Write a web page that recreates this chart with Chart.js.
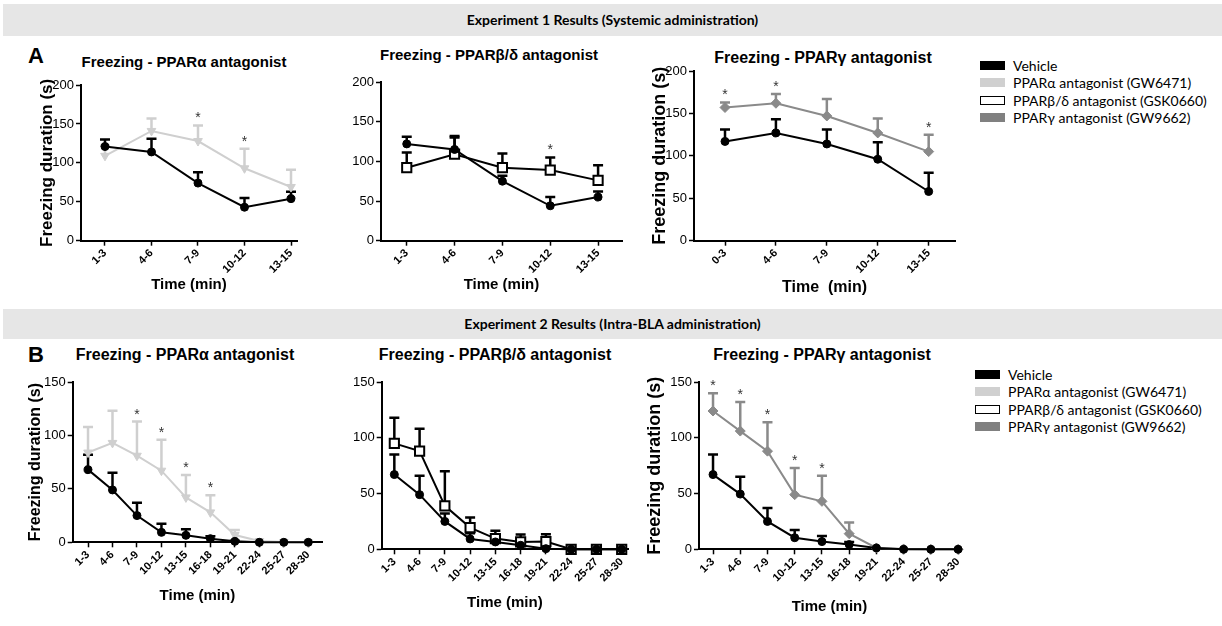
<!DOCTYPE html>
<html>
<head>
<meta charset="utf-8">
<script src="https://cdn.jsdelivr.net/npm/chart.js@4.4.0/dist/chart.umd.min.js"></script>
<style>
  body { margin: 0; width: 1222px; height: 626px; background: #fff; position: relative; overflow: hidden; font-family: "Liberation Sans", Arial, sans-serif; color: #000; }
  .bar { position: absolute; left: 3px; width: 1219px; background: #e6e6e6; text-align: center; font-family: Lato, sans-serif; font-weight: bold; font-size: 14px; }
  .title { position: absolute; width: 320px; height: 20px; line-height: 20px; text-align: center; font-weight: bold; white-space: nowrap; }
  .letter { position: absolute; font-weight: bold; font-size: 22px; line-height: 24px; }
  .legend { position: absolute; font-family: Lato, sans-serif; font-size: 14px; }
  .legend div { position: relative; height: 17.3px; line-height: 17px; padding-left: 33px; white-space: nowrap; }
  .sw { position: absolute; left: 0; top: 4px; width: 25px; height: 9px; box-sizing: border-box; }
  canvas { position: absolute; }
</style>
</head>
<body>
<div class="bar" style="top:4px;height:32px;line-height:32px">Experiment 1 Results (Systemic administration)</div>
<div class="bar" style="top:309px;height:30px;line-height:30px">Experiment 2 Results (Intra-BLA administration)</div>

<div class="letter" style="left:28px;top:44px">A</div>
<div class="letter" style="left:28px;top:343px">B</div>

<div class="title" style="left:24px;top:52px;font-size:15px">Freezing - PPARα antagonist</div>
<div class="title" style="left:329px;top:45px;font-size:15px">Freezing - PPARβ/δ antagonist</div>
<div class="title" style="left:663px;top:48px;font-size:16px">Freezing - PPARγ antagonist</div>
<div class="title" style="left:25px;top:345px;font-size:16px">Freezing - PPARα antagonist</div>
<div class="title" style="left:335px;top:345px;font-size:16px">Freezing - PPARβ/δ antagonist</div>
<div class="title" style="left:662px;top:345px;font-size:16px">Freezing - PPARγ antagonist</div>

<div class="legend" style="left:980px;top:57px">
  <div><span class="sw" style="background:#000"></span>Vehicle</div>
  <div><span class="sw" style="background:#d0d0d0"></span>PPARα antagonist (GW6471)</div>
  <div><span class="sw" style="background:#fff;border:1.5px solid #000"></span>PPARβ/δ antagonist (GSK0660)</div>
  <div><span class="sw" style="background:#808080"></span>PPARγ antagonist (GW9662)</div>
</div>
<div class="legend" style="left:975px;top:366px">
  <div><span class="sw" style="background:#000"></span>Vehicle</div>
  <div><span class="sw" style="background:#d0d0d0"></span>PPARα antagonist (GW6471)</div>
  <div><span class="sw" style="background:#fff;border:1.5px solid #000"></span>PPARβ/δ antagonist (GSK0660)</div>
  <div><span class="sw" style="background:#808080"></span>PPARγ antagonist (GW9662)</div>
</div>

<script>
const timeA = ["1-3", "4-6", "7-9", "10-12", "13-15"];
const timeA3 = ["0-3", "4-6", "7-9", "10-12", "13-15"];
const timeB = ["1-3", "4-6", "7-9", "10-12", "13-15", "16-18", "19-21", "22-24", "25-27", "28-30"];

// Experiment 1 (systemic), freezing mean and SEM in seconds
const a1Vehicle = [121, 114, 74, 43, 54];
const a1VehicleSem = [9, 17, 14, 12, 9];
const a1Alpha = [109, 141, 128, 93, 69];
const a1AlphaSem = [13, 16, 20, 25, 22];
const a1Stars = [0, 0, 1, 1, 0];

const a2Vehicle = [122, 115, 75, 44, 55];
const a2VehicleSem = [9, 17, 7, 11, 7];
const a2Beta = [92, 109, 92, 89, 76];
const a2BetaSem = [19, 21, 18, 16, 19];
const a2Stars = [0, 0, 0, 1, 0];

const a3Vehicle = [117, 127, 114, 96, 58];
const a3VehicleSem = [14, 16, 17, 20, 22];
const a3Gamma = [157, 162, 147, 127, 105];
const a3GammaSem = [6, 11, 20, 17, 20];
const a3Stars = [1, 1, 0, 0, 1];

// Experiment 2 (intra-BLA)
const b1Vehicle = [68, 49, 25, 9.3, 6.5, 3.4, 0.9, 0, 0, 0];
const b1VehicleSem = [14, 16, 12, 8, 5.6, 2.2, 0.6, 0, 0, 0];
const b1Alpha = [84, 93, 81, 67, 42, 28, 6.8, 1.2, 0.3, 0];
const b1AlphaSem = [24, 30, 32, 29, 21, 16, 4.7, 0, 0, 0];
const b1Stars = [0, 0, 1, 1, 1, 1, 0, 0, 0, 0];

const b2Vehicle = [67, 49, 25, 9.3, 6.6, 3.6, 0.6, 0, 0, 0];
const b2VehicleSem = [18, 17, 7, 5, 3.5, 2.5, 0.5, 0, 0, 0];
const b2Beta = [95, 88, 39, 19.5, 9.6, 6.6, 6.9, 0, 0, 0];
const b2BetaSem = [23, 20, 31, 9, 7, 6.6, 6.6, 0, 0, 0];
const b2Stars = [0, 0, 0, 0, 0, 0, 0, 0, 0, 0];

const b3Vehicle = [67, 49.5, 25, 10.4, 6.9, 4.2, 1.2, 0, 0, 0];
const b3VehicleSem = [18, 15.5, 12, 7, 5, 2.4, 0, 0, 0, 0];
const b3Gamma = [124, 106, 88, 49, 43, 14, 1.2, 0.3, 0, 0];
const b3GammaSem = [16, 26, 26, 24, 23, 10, 0, 0, 0, 0];
const b3Stars = [1, 1, 1, 1, 1, 0, 0, 0, 0, 0];

const black = "#000";
const light = "#cfcfcf";
const grey = "#8a8a8a";

function vehicle(values, sem) {
  return { values, sem, stars: null, color: black, fill: black, marker: "circle", radius: 4 };
}
function alpha(values, sem, stars) {
  return { values, sem, stars, color: light, fill: light, marker: "triangle", radius: 5, rotation: 180 };
}
function beta(values, sem, stars) {
  return { values, sem, stars, color: black, fill: "#fff", marker: "rect", radius: 6.5 };
}
function gamma(values, sem, stars) {
  return { values, sem, stars, color: grey, fill: grey, marker: "rectRot", radius: 5 };
}

// upward-only SEM bars under the points, stars above the caps
const errorBars = {
  id: "errorBars",
  beforeDatasetsDraw(chart) {
    const ctx = chart.ctx;
    const y = chart.scales.y;
    chart.data.datasets.forEach((ds, i) => {
      const meta = chart.getDatasetMeta(i);
      ctx.save();
      ctx.strokeStyle = ds.borderColor;
      ctx.lineWidth = 2.5;
      meta.data.forEach((pt, j) => {
        const e = ds.sem[j];
        if (!e) return;
        const top = y.getPixelForValue(ds.data[j].y + e);
        ctx.beginPath();
        ctx.moveTo(pt.x, pt.y);
        ctx.lineTo(pt.x, top);
        ctx.moveTo(pt.x - 5, top);
        ctx.lineTo(pt.x + 5, top);
        ctx.stroke();
      });
      ctx.restore();
    });
  },
  afterDatasetsDraw(chart) {
    const ctx = chart.ctx;
    const y = chart.scales.y;
    chart.data.datasets.forEach((ds, i) => {
      if (!ds.stars) return;
      const meta = chart.getDatasetMeta(i);
      ctx.save();
      ctx.fillStyle = "#333";
      ctx.font = "14px 'Liberation Sans'";
      ctx.textAlign = "center";
      ctx.textBaseline = "alphabetic";
      meta.data.forEach((pt, j) => {
        if (!ds.stars[j]) return;
        ctx.fillText("*", pt.x, y.getPixelForValue(ds.data[j].y + ds.sem[j]) - 3);
      });
      ctx.restore();
    });
  },
};

function makePanel(p) {
  const x0 = Math.round(p.yTitle ? p.yTitleX - 0.6 * p.yTitleSize : p.area.l - 35);
  const y0 = Math.round(p.area.t - 12);
  const x1 = Math.round(p.area.r + 12);
  const y1 = Math.round(p.xTitleY + 0.6 * p.xTitleSize);
  const canvas = document.createElement("canvas");
  canvas.width = x1 - x0;
  canvas.height = y1 - y0;
  canvas.style.left = x0 + "px";
  canvas.style.top = y0 + "px";
  document.body.appendChild(canvas);

  new Chart(canvas, {
    type: "line",
    data: {
      datasets: p.series.map((s) => ({
        data: s.values.map((v, i) => ({ x: i, y: v })),
        sem: s.sem,
        stars: s.stars,
        borderColor: s.color,
        backgroundColor: s.fill,
        pointBorderColor: s.color,
        pointBackgroundColor: s.fill,
        pointStyle: s.marker,
        pointRadius: s.radius,
        pointRotation: s.rotation || 0,
        pointBorderWidth: s.fill === "#fff" ? 2 : 1,
        borderWidth: 2,
        tension: 0,
        clip: false,
      })),
    },
    options: {
      responsive: false,
      animation: false,
      events: [],
      layout: { padding: { top: 12, right: 12, left: 0, bottom: 0 } },
      plugins: { legend: { display: false }, tooltip: { enabled: false } },
      scales: {
        x: {
          type: "linear",
          min: p.xMin,
          max: p.xMax,
          afterBuildTicks: (s) => { s.ticks = p.labels.map((_, i) => ({ value: i })); },
          afterFit: (s) => { s.height = y1 - p.area.b; },
          ticks: {
            autoSkip: false,
            minRotation: 45,
            maxRotation: 45,
            padding: 1,
            color: black,
            font: { family: "Liberation Sans", size: 11, weight: "bold" },
            callback: (v) => p.labels[v],
          },
          grid: { drawOnChartArea: false, tickLength: 5, tickColor: black, tickWidth: 1.5 },
          border: { color: black, width: 2 },
          title: {
            display: true,
            text: p.xTitle,
            padding: 0,
            color: black,
            font: { family: "Liberation Sans", size: p.xTitleSize, weight: "bold" },
          },
        },
        y: {
          min: 0,
          max: p.yMax,
          afterFit: (s) => { s.width = p.area.l - x0; },
          ticks: {
            stepSize: 50,
            padding: 2,
            color: black,
            font: { family: "Liberation Sans", size: 13 },
          },
          grid: { drawOnChartArea: false, tickLength: 5, tickColor: black, tickWidth: 1.5 },
          border: { color: black, width: 2 },
          title: {
            display: !!p.yTitle,
            text: "Freezing duration (s)",
            padding: 0,
            color: black,
            font: { family: "Liberation Sans", size: p.yTitleSize || 16, weight: "bold" },
          },
        },
      },
    },
    plugins: [errorBars],
  });
}

makePanel({
  area: { l: 81, t: 85, r: 297, b: 240.7 }, xMin: -0.516, xMax: 4.129, yMax: 200,
  labels: timeA, xTitle: "Time (min)", xTitleY: 285, xTitleSize: 15,
  yTitle: true, yTitleX: 46.7, yTitleSize: 17,
  series: [vehicle(a1Vehicle, a1VehicleSem), alpha(a1Alpha, a1AlphaSem, a1Stars)],
});
makePanel({
  area: { l: 381, t: 81.7, r: 622, b: 240.7 }, xMin: -0.538, xMax: 4.5, yMax: 200,
  labels: timeA, xTitle: "Time (min)", xTitleY: 285, xTitleSize: 15,
  yTitle: false,
  series: [vehicle(a2Vehicle, a2VehicleSem), beta(a2Beta, a2BetaSem, a2Stars)],
});
makePanel({
  area: { l: 694, t: 71, r: 955, b: 240.7 }, xMin: -0.609, xMax: 4.517, yMax: 200,
  labels: timeA3, xTitle: "Time  (min)", xTitleY: 287, xTitleSize: 16,
  yTitle: true, yTitleX: 660, yTitleSize: 18,
  series: [vehicle(a3Vehicle, a3VehicleSem), gamma(a3Gamma, a3GammaSem, a3Stars)],
});
makePanel({
  area: { l: 72.7, t: 381.7, r: 321.7, b: 542.3 }, xMin: -0.626, xMax: 9.56, yMax: 150,
  labels: timeB, xTitle: "Time (min)", xTitleY: 596, xTitleSize: 15,
  yTitle: true, yTitleX: 36, yTitleSize: 16,
  series: [vehicle(b1Vehicle, b1VehicleSem), alpha(b1Alpha, b1AlphaSem, b1Stars)],
});
makePanel({
  area: { l: 381.7, t: 382.3, r: 628, b: 549.3 }, xMin: -0.5, xMax: 9.25, yMax: 150,
  labels: timeB, xTitle: "Time (min)", xTitleY: 603, xTitleSize: 15,
  yTitle: false,
  series: [vehicle(b2Vehicle, b2VehicleSem), beta(b2Beta, b2BetaSem, b2Stars)],
});
makePanel({
  area: { l: 699, t: 381.7, r: 960, b: 549.3 }, xMin: -0.515, xMax: 9.07, yMax: 150,
  labels: timeB, xTitle: "Time (min)", xTitleY: 607, xTitleSize: 15,
  yTitle: true, yTitleX: 655, yTitleSize: 18,
  series: [vehicle(b3Vehicle, b3VehicleSem), gamma(b3Gamma, b3GammaSem, b3Stars)],
});
</script>
</body>
</html>
